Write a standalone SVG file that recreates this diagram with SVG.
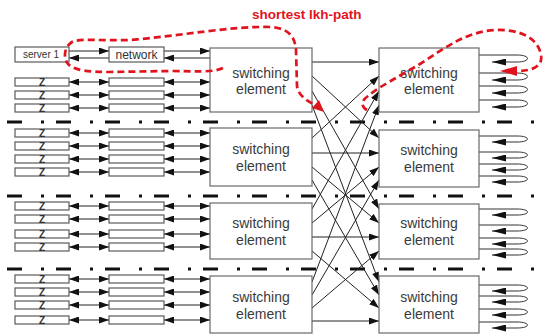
<svg xmlns="http://www.w3.org/2000/svg" width="544" height="336" viewBox="0 0 544 336">
<style>
.bx{fill:#fff;stroke:#5a5a5a;stroke-width:1.2}
.se{fill:#fff;stroke:#6a6a6a;stroke-width:1.2}
.c{stroke:#222;stroke-width:1;fill:none}
.dbl{marker-start:url(#ah);marker-end:url(#ah)}
.end{marker-end:url(#ah)}
.lp{stroke:#333;stroke-width:1;fill:none;marker-end:url(#ahL)}
.sep{stroke:#111;stroke-width:3;stroke-dasharray:15 19 3 12}
.t{font-family:"Liberation Sans",Arial,sans-serif;fill:#333}
.set{font-family:"Liberation Sans",Arial,sans-serif;font-size:14px;fill:#3a3a3a;text-anchor:middle}
.z{font-family:"Liberation Sans",Arial,sans-serif;font-size:10px;font-weight:bold;fill:#333;text-anchor:middle}
.red{stroke:#e0141e;stroke-width:2.7;fill:none;stroke-dasharray:7 4}
</style>
<defs>
<marker id="ah" viewBox="0 0 10 7" refX="10" refY="3.5" markerWidth="10" markerHeight="7" markerUnits="userSpaceOnUse" orient="auto-start-reverse"><path d="M0,0 L10,3.5 L0,7 z" fill="#111"/></marker>
<marker id="ahL" viewBox="0 0 14 7" refX="14" refY="3.5" markerWidth="14" markerHeight="7" markerUnits="userSpaceOnUse" orient="auto"><path d="M0,0 L14,3.5 L0,7 z" fill="#111"/></marker>
</defs>
<rect width="544" height="336" fill="#fff"/>
<g id="separators">
<line class="sep" x1="7" y1="122" x2="541" y2="122"/>
<line class="sep" x1="7" y1="196" x2="541" y2="196"/>
<line class="sep" x1="7" y1="269" x2="541" y2="269"/>
</g>
<g id="connectors">
<line class="c end" x1="69" y1="51" x2="109" y2="51"/>
<line class="c end" x1="109" y1="58" x2="69" y2="58"/>
<line class="c end" x1="164" y1="51" x2="210" y2="51"/>
<line class="c end" x1="210" y1="58" x2="164" y2="58"/>
<g class="c dbl">
<line x1="69" y1="82" x2="109" y2="82"/><line x1="164" y1="82" x2="210" y2="82"/>
<line x1="69" y1="95" x2="109" y2="95"/><line x1="164" y1="95" x2="210" y2="95"/>
<line x1="69" y1="108" x2="109" y2="108"/><line x1="164" y1="108" x2="210" y2="108"/>
<line x1="69" y1="133" x2="109" y2="133"/><line x1="164" y1="133" x2="210" y2="133"/>
<line x1="69" y1="146" x2="109" y2="146"/><line x1="164" y1="146" x2="210" y2="146"/>
<line x1="69" y1="159" x2="109" y2="159"/><line x1="164" y1="159" x2="210" y2="159"/>
<line x1="69" y1="172" x2="109" y2="172"/><line x1="164" y1="172" x2="210" y2="172"/>
<line x1="69" y1="206" x2="109" y2="206"/><line x1="164" y1="206" x2="210" y2="206"/>
<line x1="69" y1="219" x2="109" y2="219"/><line x1="164" y1="219" x2="210" y2="219"/>
<line x1="69" y1="234" x2="109" y2="234"/><line x1="164" y1="234" x2="210" y2="234"/>
<line x1="69" y1="247" x2="109" y2="247"/><line x1="164" y1="247" x2="210" y2="247"/>
<line x1="69" y1="279" x2="109" y2="279"/><line x1="164" y1="279" x2="210" y2="279"/>
<line x1="69" y1="292" x2="109" y2="292"/><line x1="164" y1="292" x2="210" y2="292"/>
<line x1="69" y1="305" x2="109" y2="305"/><line x1="164" y1="305" x2="210" y2="305"/>
<line x1="69" y1="320" x2="109" y2="320"/><line x1="164" y1="320" x2="210" y2="320"/>
</g>
<g class="c end">
<line x1="312" y1="62" x2="379" y2="62"/>
<line x1="312" y1="76" x2="379" y2="138"/>
<line x1="312" y1="91" x2="379" y2="209"/>
<line x1="312" y1="105" x2="379" y2="282"/>
<line x1="312" y1="138" x2="379" y2="76"/>
<line x1="312" y1="153" x2="379" y2="153"/>
<line x1="312" y1="167" x2="379" y2="223"/>
<line x1="312" y1="180" x2="379" y2="295"/>
<line x1="312" y1="209" x2="379" y2="91"/>
<line x1="312" y1="223" x2="379" y2="167"/>
<line x1="312" y1="237" x2="379" y2="237"/>
<line x1="312" y1="251" x2="379" y2="308"/>
<line x1="312" y1="282" x2="379" y2="105"/>
<line x1="312" y1="295" x2="379" y2="180"/>
<line x1="312" y1="308" x2="379" y2="251"/>
<line x1="312" y1="321" x2="379" y2="321"/>
</g>
<g>
<path class="lp" d="M479,55 L517,55 C531,55 531,62 517,62 L492,62"/>
<path class="lp" d="M479,73 L517,73 C531,73 531,80 517,80 L492,80"/>
<path class="lp" d="M479,86 L517,86 C531,86 531,93 517,93 L492,93"/>
<path class="lp" d="M479,100 L517,100 C531,100 531,107 517,107 L492,107"/>
<path class="lp" d="M479,136 L517,136 C531,136 531,142 517,142 L492,142"/>
<path class="lp" d="M479,152 L517,152 C531,152 531,158 517,158 L492,158"/>
<path class="lp" d="M479,164 L517,164 C531,164 531,170 517,170 L492,170"/>
<path class="lp" d="M479,176 L517,176 C531,176 531,182 517,182 L492,182"/>
<path class="lp" d="M479,209 L517,209 C531,209 531,215 517,215 L492,215"/>
<path class="lp" d="M479,225 L517,225 C531,225 531,231 517,231 L492,231"/>
<path class="lp" d="M479,238 L517,238 C531,238 531,244 517,244 L492,244"/>
<path class="lp" d="M479,249 L517,249 C531,249 531,255 517,255 L492,255"/>
<path class="lp" d="M479,285 L517,285 C531,285 531,291 517,291 L492,291"/>
<path class="lp" d="M479,296 L517,296 C531,296 531,302 517,302 L492,302"/>
<path class="lp" d="M479,309 L517,309 C531,309 531,315 517,315 L492,315"/>
<path class="lp" d="M479,322 L517,322 C531,322 531,328 517,328 L492,328"/>
</g>
</g>
<g id="server1"><rect class="bx" x="15" y="47" width="54" height="15"/><text class="t" x="41" y="58" font-size="10" text-anchor="middle">server 1</text></g>
<g id="network"><rect class="bx" x="109" y="47" width="55" height="15"/><text class="t" x="136.5" y="58.5" font-size="12" text-anchor="middle">network</text></g>
<g id="zboxes">
<g id="z1a"><rect class="bx" x="15" y="78" width="54" height="8"/><text class="z" x="42" y="86">Z</text></g>
<g id="z1b"><rect class="bx" x="15" y="91" width="54" height="8"/><text class="z" x="42" y="99">Z</text></g>
<g id="z1c"><rect class="bx" x="15" y="104" width="54" height="8"/><text class="z" x="42" y="112">Z</text></g>
<g id="z2a"><rect class="bx" x="15" y="129" width="54" height="8"/><text class="z" x="42" y="137">Z</text></g>
<g id="z2b"><rect class="bx" x="15" y="142" width="54" height="8"/><text class="z" x="42" y="150">Z</text></g>
<g id="z2c"><rect class="bx" x="15" y="155" width="54" height="8"/><text class="z" x="42" y="163">Z</text></g>
<g id="z2d"><rect class="bx" x="15" y="168" width="54" height="8"/><text class="z" x="42" y="176">Z</text></g>
<g id="z3a"><rect class="bx" x="15" y="202" width="54" height="8"/><text class="z" x="42" y="210">Z</text></g>
<g id="z3b"><rect class="bx" x="15" y="215" width="54" height="8"/><text class="z" x="42" y="223">Z</text></g>
<g id="z3c"><rect class="bx" x="15" y="230" width="54" height="8"/><text class="z" x="42" y="238">Z</text></g>
<g id="z3d"><rect class="bx" x="15" y="243" width="54" height="8"/><text class="z" x="42" y="251">Z</text></g>
<g id="z4a"><rect class="bx" x="15" y="275" width="54" height="8"/><text class="z" x="42" y="283">Z</text></g>
<g id="z4b"><rect class="bx" x="15" y="288" width="54" height="8"/><text class="z" x="42" y="296">Z</text></g>
<g id="z4c"><rect class="bx" x="15" y="301" width="54" height="8"/><text class="z" x="42" y="309">Z</text></g>
<g id="z4d"><rect class="bx" x="15" y="316" width="54" height="8"/><text class="z" x="42" y="324">Z</text></g>
</g>
<g id="midboxes">
<rect class="bx" x="109" y="78" width="55" height="8"/>
<rect class="bx" x="109" y="91" width="55" height="8"/>
<rect class="bx" x="109" y="104" width="55" height="8"/>
<rect class="bx" x="109" y="129" width="55" height="8"/>
<rect class="bx" x="109" y="142" width="55" height="8"/>
<rect class="bx" x="109" y="155" width="55" height="8"/>
<rect class="bx" x="109" y="168" width="55" height="8"/>
<rect class="bx" x="109" y="202" width="55" height="8"/>
<rect class="bx" x="109" y="215" width="55" height="8"/>
<rect class="bx" x="109" y="230" width="55" height="8"/>
<rect class="bx" x="109" y="243" width="55" height="8"/>
<rect class="bx" x="109" y="275" width="55" height="8"/>
<rect class="bx" x="109" y="288" width="55" height="8"/>
<rect class="bx" x="109" y="301" width="55" height="8"/>
<rect class="bx" x="109" y="316" width="55" height="8"/>
</g>
<g id="seL1"><rect class="se" x="210" y="48" width="102" height="64"/><text class="set" x="261" y="78">switching</text><text class="set" x="261" y="94">element</text></g>
<g id="seL2"><rect class="se" x="210" y="128" width="102" height="58"/><text class="set" x="261" y="154">switching</text><text class="set" x="261" y="171">element</text></g>
<g id="seL3"><rect class="se" x="210" y="203" width="102" height="56"/><text class="set" x="261" y="228">switching</text><text class="set" x="261" y="245">element</text></g>
<g id="seL4"><rect class="se" x="210" y="276" width="102" height="57"/><text class="set" x="261" y="302">switching</text><text class="set" x="261" y="319">element</text></g>
<g id="seR1"><rect class="se" x="379" y="48" width="100" height="64"/><text class="set" x="429" y="78">switching</text><text class="set" x="429" y="94">element</text></g>
<g id="seR2"><rect class="se" x="379" y="130" width="100" height="57"/><text class="set" x="429" y="155">switching</text><text class="set" x="429" y="172">element</text></g>
<g id="seR3"><rect class="se" x="379" y="204" width="100" height="55"/><text class="set" x="429" y="228">switching</text><text class="set" x="429" y="245">element</text></g>
<g id="seR4"><rect class="se" x="379" y="276" width="100" height="57"/><text class="set" x="429" y="302">switching</text><text class="set" x="429" y="319">element</text></g>
<g id="lkh-path">
<text x="252" y="19" font-family="Liberation Sans,Arial,sans-serif" font-size="13.5" font-weight="bold" fill="#e0141e">shortest lkh-path</text>
<path class="red" d="M223,68 C212,73 195,71 170,71 L110,72 C90,72 75,71 68,64 C63,58 64,47 72,42 C80,38 100,41 130,40 C180,36 230,26 270,27 C290,28 295,38 296,50 L297,86 C298,94 304,99 313,104"/>
<polygon points="324,112 312,108 319,100" fill="#e0141e"/>
<path class="red" d="M367,110 C360,106 362,100 368,96 C380,86 400,76 420,64 C445,48 465,32 495,30 C520,29 538,38 541,55 C543,66 533,71 517,71"/>
<polygon points="500,71 517,66 517,76" fill="#e0141e"/>
</g>
</svg>
